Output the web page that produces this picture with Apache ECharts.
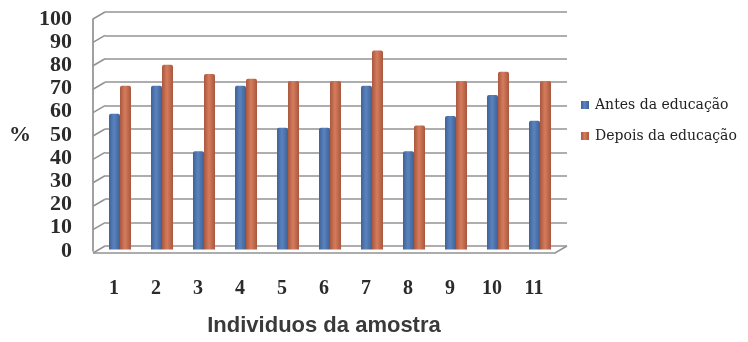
<!DOCTYPE html>
<html>
<head>
<meta charset="utf-8">
<script src="https://cdn.jsdelivr.net/npm/echarts@6/dist/echarts.min.js"></script>
<style>
  html, body { margin: 0; padding: 0; background: #fff; }
  #chart { width: 748px; height: 342px; }
</style>
</head>
<body>
<div id="chart"></div>
<script>
// Individuals of the sample
const categories = ['1', '2', '3', '4', '5', '6', '7', '8', '9', '10', '11'];
// Percent before and after the education
const antes = [58, 70, 42, 70, 52, 52, 70, 42, 57, 66, 55];
const depois = [70, 79, 75, 73, 72, 72, 85, 53, 72, 76, 72];
// Value ticks of the percent axis
const yTicks = [0, 10, 20, 30, 40, 50, 60, 70, 80, 90, 100];

const seriesNames = ['Antes da educação', 'Depois da educação'];

// Depth offset of the pseudo-3D frame (front edge relative to the back wall)
const DEPTH_X = -12, DEPTH_Y = 7;

function columnGradient(edge, mid) {
  return new echarts.graphic.LinearGradient(0, 0, 1, 0, [
    { offset: 0, color: edge },
    { offset: 0.45, color: mid },
    { offset: 1, color: edge }
  ]);
}

const chart = echarts.init(document.getElementById('chart'), null, { renderer: 'canvas' });

const serifFont = '"Liberation Serif", "Times New Roman", serif';

chart.setOption({
  animation: false,
  backgroundColor: '#ffffff',
  legend: {
    orient: 'vertical',
    left: 576,
    top: 93,
    itemWidth: 8,
    itemHeight: 8,
    itemGap: 17,
    icon: 'rect',
    textStyle: { fontFamily: '"DejaVu Serif", serif', fontSize: 14, color: '#222', padding: [0, 0, 0, 1] },
    data: seriesNames
  },
  grid: [
    // back wall
    { left: 105, right: 181, top: 12, bottom: 96 },
    // column plane (mid depth)
    { left: 99, right: 187, top: 15.5, bottom: 92.5 },
    // front edge (labels)
    { left: 93, right: 193, top: 19, bottom: 89 }
  ],
  xAxis: [
    { gridIndex: 0, type: 'value', min: 0, max: 1, show: false },
    { gridIndex: 1, type: 'category', data: categories, show: false },
    {
      gridIndex: 2, type: 'category', data: categories,
      axisLine: { show: false }, axisTick: { show: false },
      axisLabel: { margin: 28, fontFamily: serifFont, fontWeight: 'bold', fontSize: 20, color: '#2b2b2b' },
      name: 'Individuos da amostra',
      nameLocation: 'middle',
      nameGap: 64,
      nameTextStyle: { fontFamily: '"Liberation Sans", Arial, sans-serif', fontWeight: 'bold', fontSize: 22, color: '#3a3a3a' }
    }
  ],
  yAxis: [
    {
      gridIndex: 0, type: 'value', min: 0, max: 100, interval: 10,
      axisLine: { show: false }, axisTick: { show: false }, axisLabel: { show: false },
      splitLine: { show: true, lineStyle: { color: '#939393', width: 1.6 } }
    },
    { gridIndex: 1, type: 'value', min: 0, max: 100, interval: 10, show: false },
    {
      gridIndex: 2, type: 'value', min: 0, max: 100, interval: 10,
      axisLine: { show: true, lineStyle: { color: '#8a8a8a', width: 1.6 } },
      axisTick: { show: false },
      splitLine: { show: false },
      axisLabel: { margin: 21, fontFamily: serifFont, fontWeight: 'bold', fontSize: 22, color: '#2b2b2b' },
      name: '%',
      nameLocation: 'middle',
      nameRotate: 0,
      nameGap: 62,
      nameTextStyle: { fontFamily: serifFont, fontWeight: 'bold', fontSize: 22, color: '#2b2b2b' }
    }
  ],
  series: [
    {
      // side-wall diagonals and floor outline
      type: 'custom',
      xAxisIndex: 0, yAxisIndex: 0,
      silent: true,
      data: yTicks.map(v => [0, v]),
      renderItem: function (params, api) {
        const v = api.value(1);
        const back = api.coord([0, v]);
        const children = [{
          type: 'line',
          shape: { x1: back[0], y1: back[1], x2: back[0] + DEPTH_X, y2: back[1] + DEPTH_Y },
          style: { stroke: '#939393', lineWidth: 1.6 }
        }];
        if (v === 0) {
          const backR = api.coord([1, 0]);
          children.push({
            type: 'polyline',
            shape: { points: [
              [back[0] + DEPTH_X, back[1] + DEPTH_Y],
              [backR[0] + DEPTH_X, backR[1] + DEPTH_Y],
              [backR[0], backR[1]]
            ] },
            style: { stroke: '#939393', lineWidth: 1.6, fill: null }
          });
        }
        return { type: 'group', children: children };
      }
    },
    {
      name: seriesNames[0],
      type: 'bar',
      xAxisIndex: 1, yAxisIndex: 1,
      data: antes,
      barWidth: 11,
      barGap: '0%',
      itemStyle: { color: columnGradient('#3f6296', '#5a83bf'), borderRadius: [2, 2, 0, 0] }
    },
    {
      name: seriesNames[1],
      type: 'bar',
      xAxisIndex: 1, yAxisIndex: 1,
      data: depois,
      barWidth: 11,
      barGap: '0%',
      itemStyle: { color: columnGradient('#a8573f', '#d57c5c'), borderRadius: [2, 2, 0, 0] }
    }
  ]
});
</script>
</body>
</html>
